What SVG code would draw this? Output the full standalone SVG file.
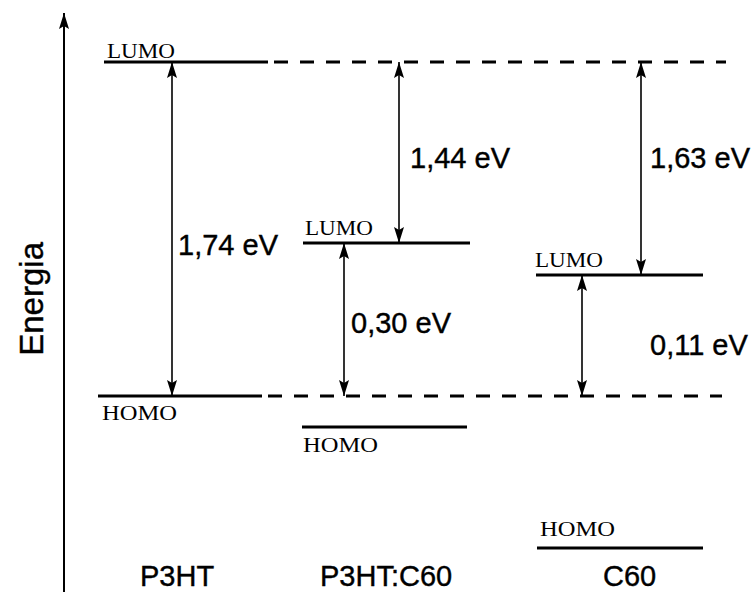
<svg xmlns="http://www.w3.org/2000/svg" width="756" height="592" viewBox="0 0 756 592">
<style>
.lvl{stroke:#000;stroke-width:3;fill:none}
.dash{stroke:#000;stroke-width:3;fill:none;stroke-dasharray:14 12}
.arr{stroke:#000;stroke-width:1.6;fill:none;marker-start:url(#ah);marker-end:url(#ah)}
.ser{font-family:"Liberation Serif","Times New Roman",serif;font-size:21px;fill:#000}
.san{font-family:"Liberation Sans",Arial,sans-serif;font-size:29px;fill:#000;stroke:#000;stroke-width:0.4}
</style>
<defs>
<marker id="ah" viewBox="0 0 16 10" refX="16" refY="5" markerWidth="16" markerHeight="10" markerUnits="userSpaceOnUse" orient="auto-start-reverse">
<path d="M0,0 L16,5 L0,10 L3,5 Z" fill="#000"/>
</marker>
<marker id="axh" viewBox="0 0 16 10" refX="16" refY="5" markerWidth="16" markerHeight="10" markerUnits="userSpaceOnUse" orient="auto">
<path d="M0,0 L16,5 L0,10 L3,5 Z" fill="#000"/>
</marker>
</defs>
<g id="axis">
<line x1="64" y1="592" x2="64" y2="13" stroke="#000" stroke-width="2" marker-end="url(#axh)"/>
<text class="san" style="font-size:33px" transform="translate(43,242) rotate(-90)" text-anchor="end">Energia</text>
</g>
<g id="p3ht">
<line class="lvl" x1="104" y1="62" x2="268" y2="62"/>
<text class="ser" x="107" y="58" textLength="68" lengthAdjust="spacingAndGlyphs">LUMO</text>
<line class="lvl" x1="98" y1="396" x2="262" y2="396"/>
<text class="ser" x="102" y="420" textLength="75" lengthAdjust="spacingAndGlyphs">HOMO</text>
<text class="san" x="140" y="586">P3HT</text>
</g>
<g id="p3htc60">
<line class="lvl" x1="303" y1="243" x2="470" y2="243"/>
<text class="ser" x="305" y="235" textLength="68" lengthAdjust="spacingAndGlyphs">LUMO</text>
<line class="lvl" x1="302" y1="427" x2="467" y2="427"/>
<text class="ser" x="303" y="452" textLength="75" lengthAdjust="spacingAndGlyphs">HOMO</text>
<text class="san" x="320" y="586">P3HT:C60</text>
</g>
<g id="c60">
<line class="lvl" x1="536" y1="275" x2="703" y2="275"/>
<text class="ser" x="535" y="267" textLength="68" lengthAdjust="spacingAndGlyphs">LUMO</text>
<line class="lvl" x1="537" y1="548" x2="703" y2="548"/>
<text class="ser" x="540" y="536" textLength="75" lengthAdjust="spacingAndGlyphs">HOMO</text>
<text class="san" x="603" y="586">C60</text>
</g>
<g id="connectors">
<line class="dash" x1="274" y1="62" x2="726" y2="62"/>
<line class="dash" x1="268" y1="396" x2="722" y2="396"/>
<line class="arr" x1="172" y1="62" x2="172" y2="396"/>
<line class="arr" x1="399" y1="62" x2="399" y2="243"/>
<line class="arr" x1="344" y1="243" x2="344" y2="396"/>
<line class="arr" x1="641" y1="62" x2="641" y2="275"/>
<line class="arr" x1="582" y1="275" x2="582" y2="396"/>
</g>
<g id="labels">
<text class="san" x="178" y="255">1,74 eV</text>
<text class="san" x="410" y="168">1,44 eV</text>
<text class="san" x="351" y="333">0,30 eV</text>
<text class="san" x="650" y="168">1,63 eV</text>
<text class="san" x="650" y="355">0,11 eV</text>
</g>
</svg>
